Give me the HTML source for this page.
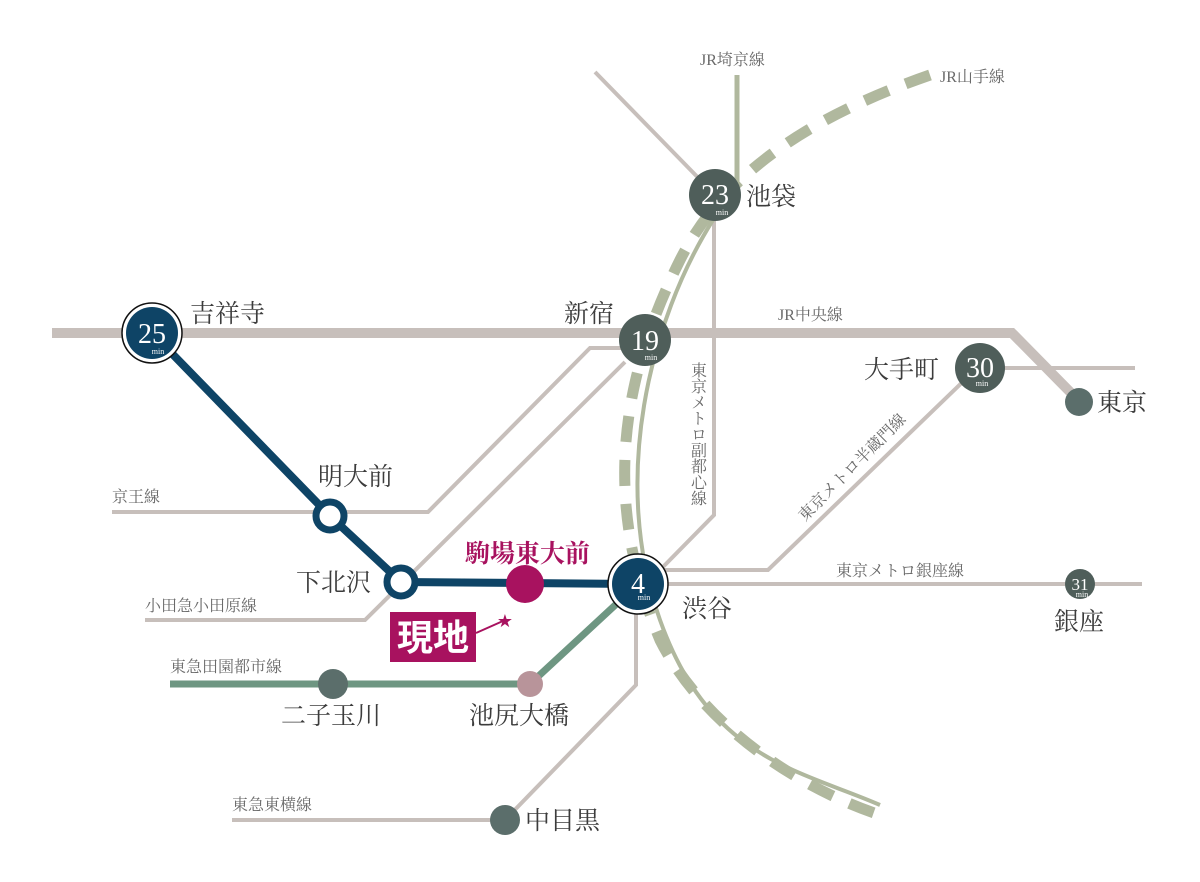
<!DOCTYPE html>
<html><head><meta charset="utf-8"><style>
html,body{margin:0;padding:0;background:#fff;}
svg{display:block;}
.st{font-family:"Liberation Serif","Noto Serif CJK SC",serif;font-size:25px;fill:#3c3c3c;}
.ln{font-family:"Liberation Serif","Noto Serif CJK SC",serif;font-size:16px;fill:#6a6a6a;}
.num{font-family:"Liberation Serif",serif;fill:#fff;text-anchor:middle;}
.min{font-family:"Liberation Serif",serif;fill:#fff;font-size:8px;text-anchor:middle;}
</style></head><body>
<svg width="1200" height="882" viewBox="0 0 1200 882" xmlns="http://www.w3.org/2000/svg">
<g fill="none" stroke="#c7bfbb" stroke-width="4">
<line x1="595" y1="72" x2="715" y2="195"/>
<polyline points="112,512 428,512 590,348 645,348"/>
<polyline points="145,620 365,620 625,362"/>
<polyline points="232,820 505,820 636,685 636,590"/>
<polyline points="714,210 714,515 660,570"/>
<polyline points="660,570 768,570 975,370"/>
<line x1="660" y1="584" x2="1142" y2="584"/>
<line x1="980" y1="368" x2="1135" y2="368"/>
</g>
<polyline points="52,333 1012,333 1078,400" fill="none" stroke="#c7bfbb" stroke-width="10"/>
<line x1="737" y1="75" x2="737" y2="195" stroke="#b0b89e" stroke-width="5"/>
<path d="M713,220 C650,320 610,480 660,620 S800,770 880,805" fill="none" stroke="#b0b89e" stroke-width="4"/>
<path d="M930,75 C800,120 720,180 680,260 C610,400 610,520 660,640 C700,720 790,785 880,815" fill="none" stroke="#b0b89e" stroke-width="11" stroke-dasharray="26,18"/>
<polyline points="170,684 530,684 638,584" fill="none" stroke="#6e9682" stroke-width="7"/>
<polyline points="152,333 330,516 401,582 638,584" fill="none" stroke="#0e4466" stroke-width="8"/>
<circle cx="152" cy="333" r="30" fill="#fff" stroke="#111" stroke-width="1.5"/>
<circle cx="152" cy="333" r="26" fill="#0e4466"/>
<text class="num" x="152" y="343" font-size="28">25</text><text class="min" x="158" y="354">min</text>
<circle cx="638" cy="584" r="30" fill="#fff" stroke="#111" stroke-width="1.5"/>
<circle cx="638" cy="584" r="26" fill="#0e4466"/>
<text class="num" x="638" y="593" font-size="28">4</text><text class="min" x="644" y="600">min</text>
<circle cx="715" cy="195" r="26" fill="#4f5e5a"/>
<text class="num" x="715" y="204" font-size="28">23</text><text class="min" x="722" y="215">min</text>
<circle cx="645" cy="340" r="26" fill="#4f5e5a"/>
<text class="num" x="645" y="350" font-size="28">19</text><text class="min" x="651" y="360">min</text>
<circle cx="980" cy="368" r="25" fill="#4f5e5a"/>
<text class="num" x="980" y="377" font-size="28">30</text><text class="min" x="982" y="386">min</text>
<circle cx="1079" cy="402" r="14" fill="#5b6e6b"/>
<circle cx="1080" cy="584" r="15" fill="#4f5e5a"/>
<text class="num" x="1080" y="590" font-size="17">31</text><text class="min" x="1082" y="597" font-size="6">min</text>
<circle cx="330" cy="516" r="14" fill="#fff" stroke="#0e4466" stroke-width="7"/>
<circle cx="401" cy="582" r="14" fill="#fff" stroke="#0e4466" stroke-width="7"/>
<circle cx="525" cy="584" r="19" fill="#a8125f"/>
<circle cx="333" cy="684" r="15" fill="#5b6e6b"/>
<circle cx="530" cy="684" r="13" fill="#b8949a"/>
<circle cx="505" cy="820" r="15" fill="#5b6e6b"/>
<rect x="390" y="612" width="86" height="50" fill="#a8125f"/>
<text x="433" y="650" fill="#fff" font-family="'Noto Sans CJK JP',sans-serif" font-weight="bold" font-size="36" text-anchor="middle">現地</text>
<line x1="476" y1="633" x2="503" y2="621" stroke="#a8125f" stroke-width="2"/>
<text x="505" y="627" fill="#a8125f" font-size="18" text-anchor="middle">★</text>
<text class="st" x="190" y="322">吉祥寺</text>
<text class="st" x="564" y="322">新宿</text>
<text class="st" x="746" y="205">池袋</text>
<text class="st" x="864" y="378">大手町</text>
<text class="st" x="1097" y="411">東京</text>
<text class="st" x="318" y="485">明大前</text>
<text class="st" x="296" y="591">下北沢</text>
<text class="st" x="465" y="562" style="fill:#a8125f;font-weight:bold">駒場東大前</text>
<text class="st" x="682" y="617">渋谷</text>
<text class="st" x="1054" y="630">銀座</text>
<text class="st" x="281" y="724">二子玉川</text>
<text class="st" x="469" y="724">池尻大橋</text>
<text class="st" x="525" y="829">中目黒</text>
<text class="ln" x="700" y="65">JR埼京線</text>
<text class="ln" x="940" y="82">JR山手線</text>
<text class="ln" x="778" y="320">JR中央線</text>
<text class="ln" x="112" y="502">京王線</text>
<text class="ln" x="145" y="611">小田急小田原線</text>
<text class="ln" x="170" y="672">東急田園都市線</text>
<text class="ln" x="232" y="810">東急東横線</text>
<text class="ln" x="836" y="576">東京メトロ銀座線</text>
<text class="ln" x="697" y="362" style="writing-mode:tb" font-size="14">東京メトロ副都心線</text>
<text class="ln" transform="translate(805,522) rotate(-45)">東京メトロ半蔵門線</text>
</svg>
</body></html>
